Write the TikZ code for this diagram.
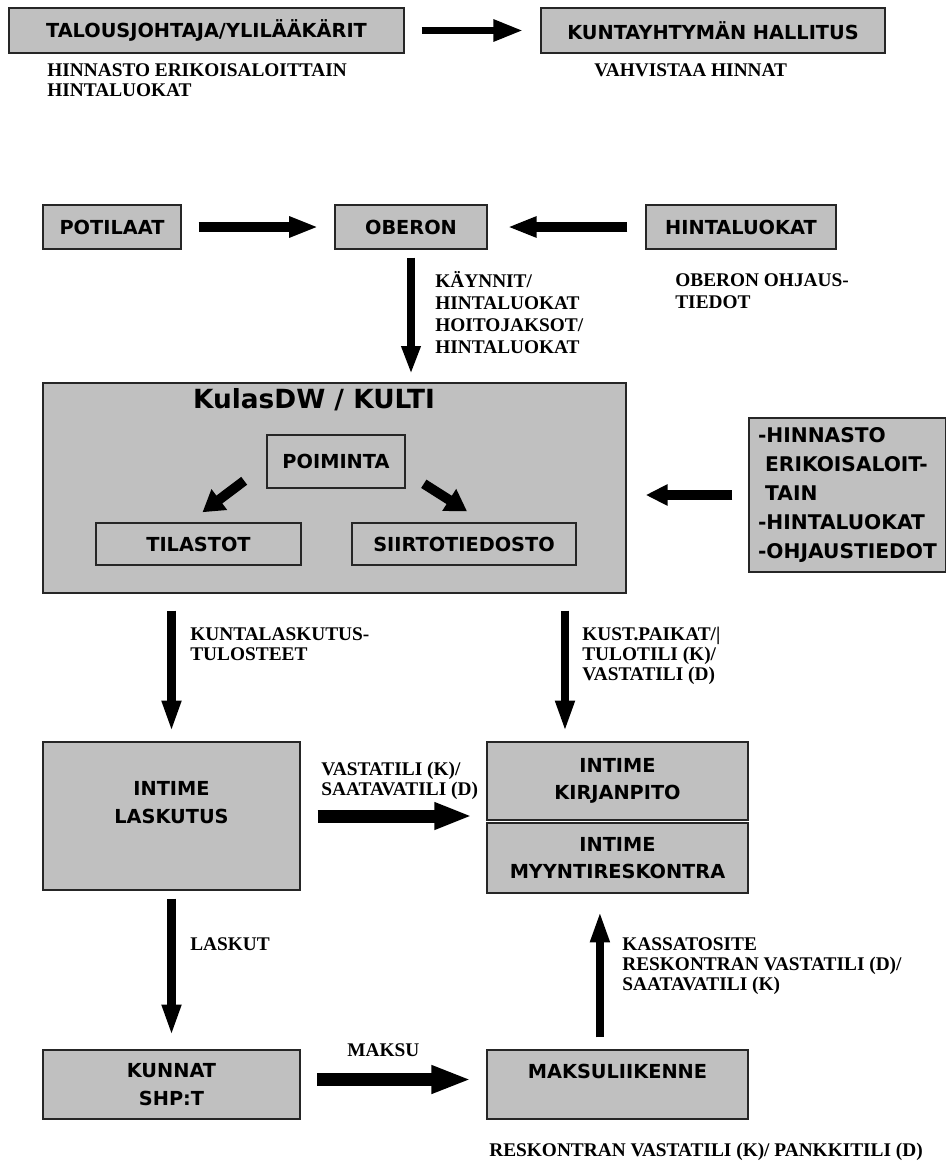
\documentclass[tikz,border=0pt]{standalone}
\usepackage{fontspec}
\newfontfamily\boxfont{DejaVu Sans}
\newfontfamily\notefont{Liberation Serif}
\usetikzlibrary{arrows.meta, calc, positioning}
\definecolor{boxgray}{RGB}{192,192,192}
\tikzset{
    box/.style={draw=black!85, line width=0.9pt, fill=boxgray, inner sep=0pt,
        align=center, font=\boxfont\bfseries\fontsize{11}{15.5}\selectfont},
    boxsize/.style 2 args={minimum width=#1*0.02cm, minimum height=#2*0.02cm},
    note/.style={anchor=north west, inner sep=0pt, align=left,
        font=\notefont\bfseries\fontsize{11}{11.5}\selectfont},
    flow/.style args={#1 #2 #3}{line width=#1, -{Triangle[length=#2, width=#3]}},
    flow/.default={5pt 16pt 11pt}
}
\begin{document}
\begin{tikzpicture}[x=0.02cm, y=-0.02cm]
    \useasboundingbox (0,0) rectangle (946,1163);
    % top row
    \node[box, boxsize={395}{45}] (talous) at (206.5,30.5) {TALOUSJOHTAJA/YLILÄÄKÄRIT};
    \node[box, boxsize={344}{45}] (hallitus) at (713,30.5) {KUNTAYHTYMÄN HALLITUS};
    \draw[flow={4.5pt 17pt 11.5pt}, shorten <=9.6pt, shorten >=9.6pt] (talous) -- (hallitus);
    \node[note] (hinnasto) at (47,63) {HINNASTO ERIKOISALOITTAIN\\HINTALUOKAT};
    \node[note] (vahvistaa) at (594,63) {VAHVISTAA HINNAT};
    % oberon row
    \node[box, boxsize={138}{44}] (potilaat) at (112,227) {POTILAAT};
    \node[box, boxsize={152}{44}] (oberon) at (411,227) {OBERON};
    \node[box, boxsize={190}{44}] (hintaluokat) at (741,227) {HINTALUOKAT};
    \draw[flow={5.6pt 16.5pt 11pt}, shorten <=9.6pt, shorten >=9.1pt] (potilaat) -- (oberon);
    \draw[flow={5.6pt 16.5pt 11pt}, shorten <=10.2pt, shorten >=11.3pt] (hintaluokat) -- (oberon);
    \node[note, font=\notefont\bfseries\fontsize{11}{12.5}\selectfont] (kaynnit) at (435,271)
        {KÄYNNIT/\\HINTALUOKAT\\HOITOJAKSOT/\\HINTALUOKAT};
    \node[note, font=\notefont\bfseries\fontsize{11}{12.8}\selectfont] (ohjaus) at (675,273)
        {OBERON OHJAUS-\\TIEDOT};
    % kulas
    \node[box, boxsize={583}{210}] (kulas) at (334.5,488) {};
    \node[font=\boxfont\bfseries\fontsize{15}{18}\selectfont, inner sep=0pt] (kulasname) at (314,400) {KulasDW / KULTI};
    \node[box, boxsize={138}{53}] (poiminta) at (336,461.5) {POIMINTA};
    \node[box, boxsize={205}{42}] (tilastot) at (198.5,544) {TILASTOT};
    \node[box, boxsize={224}{42}] (siirto) at (464,544) {SIIRTOTIEDOSTO};
    \draw[flow={5.6pt 12pt 14pt}] ($(poiminta.south west)+(-22,-8)$) -- ($(tilastot.north)+(4,-10)$);
    \draw[flow={5.6pt 12pt 14pt}] ($(poiminta.south east)+(18,-5)$) -- ($(siirto.north)+(3,-11)$);
    \node[box, boxsize={197}{154}, align=left,
        font=\boxfont\bfseries\fontsize{11.5}{16.4}\selectfont] (tiedot) at (847.5,495)
        {-HINNASTO\\\ ERIKOISALOIT-\\\ TAIN\\-HINTALUOKAT\\-OHJAUSTIEDOT};
    \draw[flow={6.2pt 12.5pt 11.5pt}, shorten <=9pt, shorten >=10.8pt] (tiedot) -- (tiedot -| kulas.east);
    \draw[flow={5pt 16pt 10pt}, shorten <=4.5pt, shorten >=4.5pt] (oberon) -- (oberon |- kulas.north);
    % intime
    \node[box, boxsize={257}{148}] (laskutus) at (171.5,816) {INTIME\\LASKUTUS\\ \mbox{}};
    \node[box, boxsize={261}{78}] (kirjanpito) at (617.5,781) {INTIME\\KIRJANPITO};
    \node[box, boxsize={261}{70}] (myynti) at (617.5,858) {INTIME\\MYYNTIRESKONTRA};
    \coordinate (kirjin) at ($(kirjanpito.north west)!0.3!(kirjanpito.north east)$);
    \draw[flow={4.8pt 18pt 10pt}, shorten <=9.6pt, shorten >=5.1pt] (laskutus.north |- kulas.south) -- (laskutus);
    \draw[flow={4.8pt 18pt 10pt}, shorten <=9.6pt, shorten >=5.1pt] (kirjin |- kulas.south) -- (kirjin);
    \node[note, font=\notefont\bfseries\fontsize{11}{11.3}\selectfont] (kuntalask) at (190,627)
        {KUNTALASKUTUS-\\TULOSTEET};
    \node[note, font=\notefont\bfseries\fontsize{11}{11.3}\selectfont] (kustpaikat) at (582,627)
        {KUST.PAIKAT/|\\TULOTILI (K)/\\VASTATILI (D)};
    \draw[flow={7.4pt 21.5pt 14.2pt}, shorten <=9.6pt, shorten >=8pt] (laskutus) -- (laskutus -| kirjanpito.west);
    \node[note, font=\notefont\bfseries\fontsize{11}{11.3}\selectfont] (vastatili) at (321,762)
        {VASTATILI (K)/\\SAATAVATILI (D)};
    % payments
    \node[box, boxsize={257}{69}] (kunnat) at (171.5,1084.5) {KUNNAT\\SHP:T};
    \node[box, boxsize={261}{69}] (maksu) at (617.5,1084.5) {MAKSULIIKENNE\\ \mbox{}};
    \draw[flow={4.8pt 18pt 10pt}, shorten <=4.5pt, shorten >=7.4pt] (laskutus) -- (kunnat);
    \node[note] (laskut) at (190,937) {LASKUT};
    \draw[flow={7.9pt 22.7pt 14.7pt}, shorten <=9.1pt, shorten >=8.5pt]
        ([yshift=5*0.02cm]kunnat.east) -- ([yshift=5*0.02cm]kunnat.east -| maksu.west);
    \node[note] (maksuteksti) at (347,1043) {MAKSU};
    \coordinate (maksuout) at ($(maksu.north west)!0.433!(maksu.north east)$);
    \draw[flow={4.8pt 18pt 10pt}, shorten <=6.8pt, shorten >=9.6pt] (maksuout) -- (maksuout |- myynti.south);
    \node[note, font=\notefont\bfseries\fontsize{11}{11.6}\selectfont] (kassatosite) at (622,937)
        {KASSATOSITE\\RESKONTRAN VASTATILI (D)/\\SAATAVATILI (K)};
    \node[note] (pankkitili) at (489,1143) {RESKONTRAN VASTATILI (K)/ PANKKITILI (D)};
\end{tikzpicture}
\end{document}
